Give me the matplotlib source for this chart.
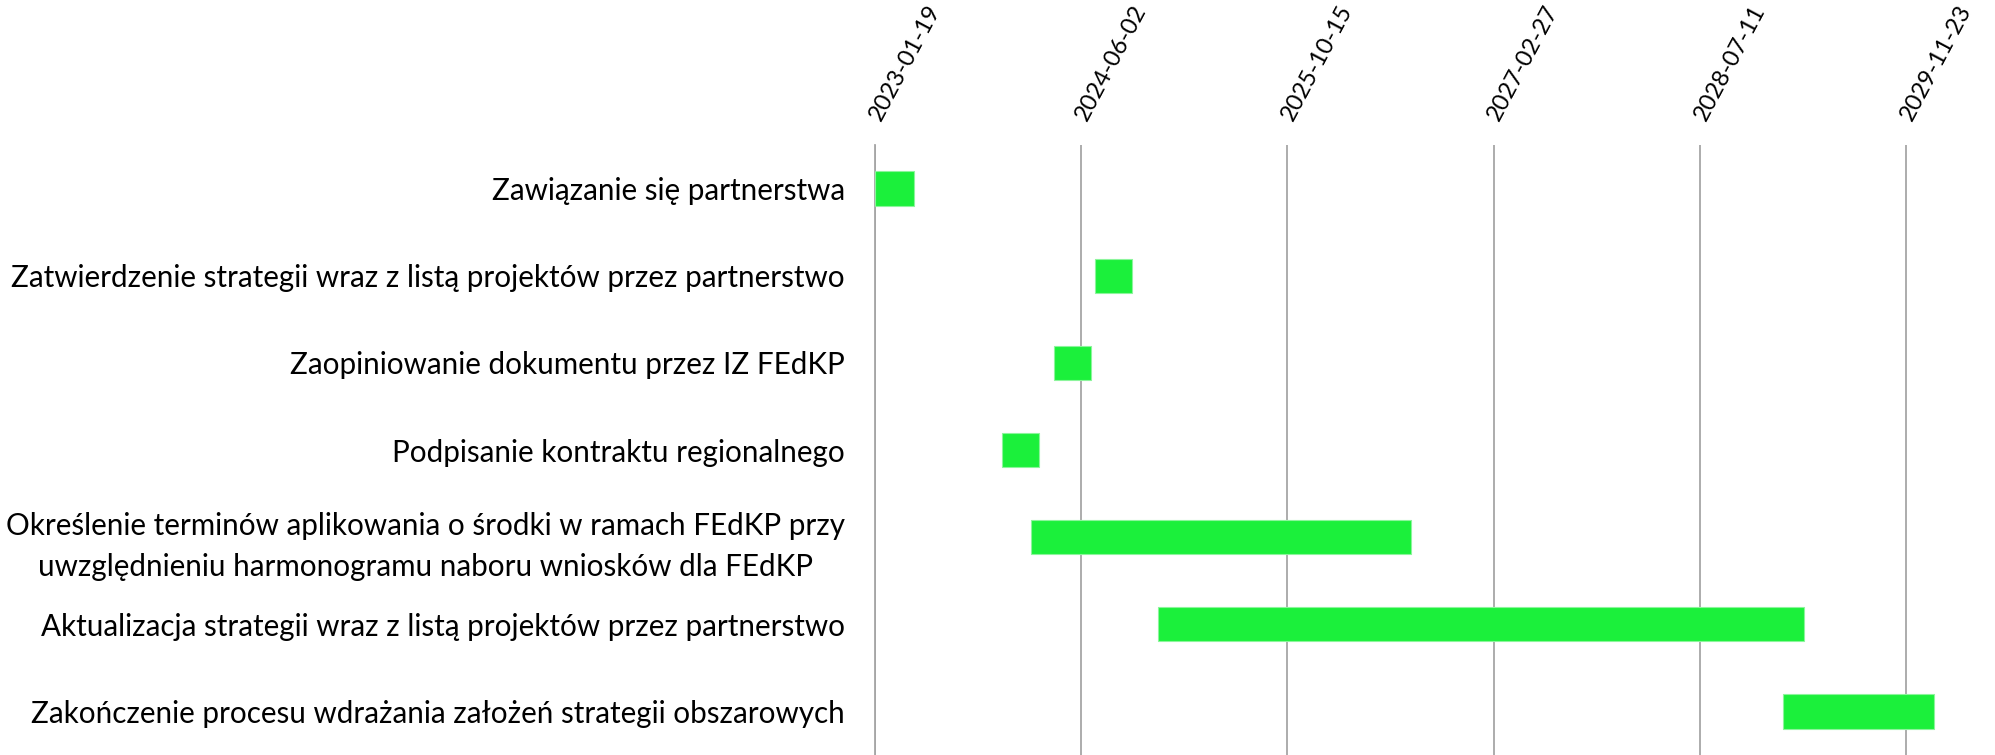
import pandas as pd
import matplotlib.pyplot as plt
import matplotlib.dates as mdates

plt.rcParams['font.family'] = ['Lato', 'DejaVu Sans']

# etapy harmonogramu
zadania = [
    "Zawiązanie się partnerstwa",
    "Zatwierdzenie strategii wraz z listą projektów przez partnerstwo",
    "Zaopiniowanie dokumentu przez IZ FEdKP",
    "Podpisanie kontraktu regionalnego",
    "Określenie terminów aplikowania o środki w ramach FEdKP przy\nuwzględnieniu harmonogramu naboru wniosków dla FEdKP",
    "Aktualizacja strategii wraz z listą projektów przez partnerstwo",
    "Zakończenie procesu wdrażania założeń strategii obszarowych",
]
poczatek = ["2023-01-20", "2024-07-06", "2024-03-28", "2023-11-22",
            "2024-02-01", "2024-12-06", "2029-01-29"]
koniec = ["2023-04-24", "2024-10-03", "2024-06-25", "2024-02-21",
          "2026-08-11", "2029-03-20", "2030-01-29"]

os_start = "2023-01-19"
krok_dni = 500
liczba_tickow = 6
zakres_dni = 2716

start = mdates.date2num(pd.to_datetime(poczatek))
stop = mdates.date2num(pd.to_datetime(koniec))
ticki = pd.date_range(os_start, periods=liczba_tickow, freq=f"{krok_dni}D")

fig = plt.figure(figsize=(19.95, 7.55), dpi=100)
ax = fig.add_axes([875 / 1995, 0, 1 - 875 / 1995, 610 / 755])

y = range(len(zadania))
ax.barh(y, stop - start, left=start, height=0.395, color='#1BF03B',
        edgecolor='#8CF59C', linewidth=0.8, zorder=3)

x0 = mdates.date2num(pd.Timestamp(os_start))
ax.set_xlim(x0, x0 + zakres_dni)
ax.set_ylim(len(zadania) - 0.5, -0.5)

ax.xaxis.tick_top()
ax.set_xticks(mdates.date2num(ticki))
ax.set_xticklabels([t.strftime("%Y-%m-%d") for t in ticki], fontsize=17,
                   rotation=62, rotation_mode='anchor', ha='left', va='center')
ax.tick_params(axis='x', length=0, pad=19)

ax.set_yticks(list(y))
ax.set_yticklabels(zadania, fontsize=21.3, multialignment='center', linespacing=1.58)
ax.tick_params(axis='y', length=0, pad=21.6)

ax.grid(axis='x', color='#A6A6A6', linewidth=1.3)
ax.set_axisbelow(True)
for s in ['top', 'right', 'bottom']:
    ax.spines[s].set_visible(False)
ax.spines['left'].set_color('#A6A6A6')
ax.spines['left'].set_linewidth(1.3)

fig.savefig('out.png', dpi=100)
